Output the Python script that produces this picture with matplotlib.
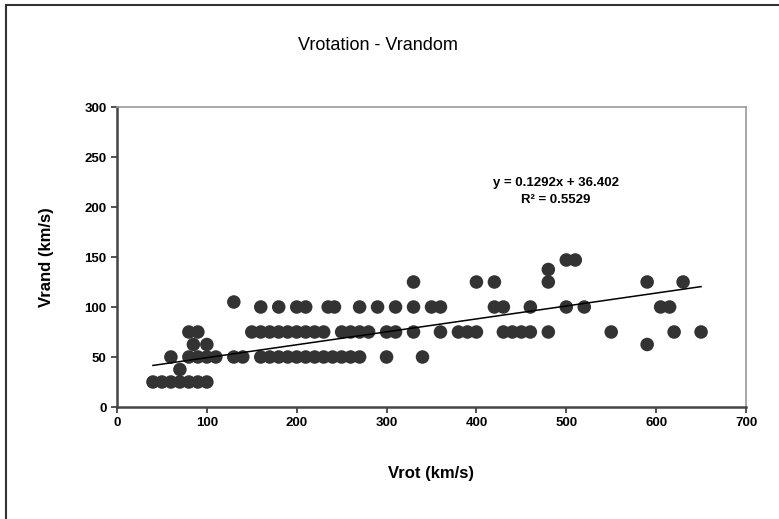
import numpy as np
import matplotlib.pyplot as plt
from matplotlib.patches import Rectangle

# values (km/s)
vrot = [40, 50, 60, 70, 80, 90, 100,
        70,
        60, 80, 90, 100, 110, 130, 140, 160, 170, 180, 190, 200, 210, 220, 230,
        240, 250, 260, 270, 300, 340,
        85, 100, 590,
        80, 90, 150, 160, 170, 180, 190, 200, 210, 220, 230, 250, 260, 270, 280,
        300, 310, 330, 360, 380, 390, 400, 430, 440, 450, 460, 480, 550, 620, 650,
        130, 160, 180, 200, 210, 235, 242, 270, 290, 310, 330, 350, 360, 420, 430,
        460, 500, 520, 605, 615,
        330, 400, 420, 480, 590, 630,
        480, 500, 510]
vrand = [25, 25, 25, 25, 25, 25, 25,
         37.5,
         50, 50, 50, 50, 50, 50, 50, 50, 50, 50, 50, 50, 50, 50, 50,
         50, 50, 50, 50, 50, 50,
         62.5, 62.5, 62.5,
         75, 75, 75, 75, 75, 75, 75, 75, 75, 75, 75, 75, 75, 75, 75,
         75, 75, 75, 75, 75, 75, 75, 75, 75, 75, 75, 75, 75, 75, 75,
         105, 100, 100, 100, 100, 100, 100, 100, 100, 100, 100, 100, 100, 100, 100,
         100, 100, 100, 100, 100,
         125, 125, 125, 125, 125, 125,
         137.5, 147, 147]

slope, intercept, r2 = 0.1292, 36.402, 0.5529
x_ticks = [0, 100, 200, 300, 400, 500, 600, 700]
y_ticks = [0, 50, 100, 150, 200, 250, 300]

W, H = 779, 519
fig = plt.figure(figsize=(W / 100, H / 100), dpi=100)
plt.rcParams['font.family'] = ['Liberation Sans Narrow', 'Liberation Sans', 'DejaVu Sans']

# outer chart border (left / top visible)
fig.patches.append(Rectangle((6 / W, -0.1), 1.2, 1.1 - 5 / H, transform=fig.transFigure,
                             fill=False, edgecolor='#333333', lw=1.5))

ax = fig.add_axes([117 / W, (H - 407) / H, (746 - 117) / W, (407 - 107) / H])
ax.scatter(vrot, vrand, s=95, color='#333333', edgecolors='none', zorder=3)

xs = np.array([min(vrot), max(vrot)])
ax.plot(xs, slope * xs + intercept, color='black', lw=1.1, zorder=4)

ax.set_xlim(0, 700)
ax.set_ylim(0, 300)
ax.set_xticks(x_ticks)
ax.set_yticks(y_ticks)
ax.tick_params(direction='out', length=4, width=1.2, colors='#333333', labelcolor='black',
               labelsize=9.5)
for lab in ax.get_xticklabels() + ax.get_yticklabels():
    lab.set_fontweight('bold')

for side in ['left', 'bottom']:
    ax.spines[side].set_color('#444444')
    ax.spines[side].set_linewidth(1.8)
for side in ['top', 'right']:
    ax.spines[side].set_color('#999999')
    ax.spines[side].set_linewidth(1.2)

ax.set_xlabel('Vrot (km/s)', fontsize=12, fontweight='bold', labelpad=26)
ax.set_ylabel('Vrand (km/s)', fontsize=12, fontweight='bold', labelpad=22)

fig.text(378 / W, 1 - 45 / H, 'Vrotation - Vrandom', fontsize=13, ha='center', va='center')
ax.text(488, 224, 'y = %.4fx + %.3f' % (slope, intercept), fontsize=9.5,
        fontweight='bold', ha='center', va='center')
ax.text(488, 207, 'R² = %.4f' % r2, fontsize=9.5, fontweight='bold', ha='center', va='center')

fig.savefig('out.png', dpi=100)
